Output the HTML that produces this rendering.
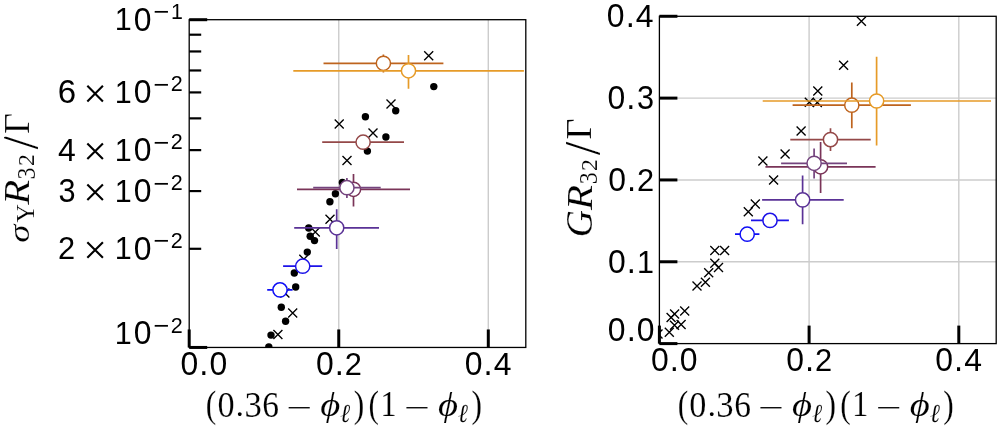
<!DOCTYPE html>
<html><head><meta charset="utf-8"><title>chart</title>
<style>html,body{margin:0;padding:0;background:#fff;width:1000px;height:428px;overflow:hidden}
text{font-kerning:none}svg{will-change:transform}</style></head>
<body>
<svg width="1000" height="428" viewBox="0 0 1000 428" style="display:block">
<rect width="1000" height="428" fill="#fff"/>
<clipPath id="cl"><rect x="189.20" y="19.70" width="336.60" height="327.75"/></clipPath>
<line x1="338.75" y1="19.70" x2="338.75" y2="347.45" stroke="#cccccc" stroke-width="1.40"/>
<line x1="488.30" y1="19.70" x2="488.30" y2="347.45" stroke="#cccccc" stroke-width="1.40"/>
<g clip-path="url(#cl)">
<path d="M273.40 330.10L282.40 339.10M273.40 339.10L282.40 330.10" stroke="#000" stroke-width="1.35" fill="none"/>
<path d="M288.20 308.40L297.20 317.40M288.20 317.40L297.20 308.40" stroke="#000" stroke-width="1.35" fill="none"/>
<path d="M280.40 288.50L289.40 297.50M280.40 297.50L289.40 288.50" stroke="#000" stroke-width="1.35" fill="none"/>
<path d="M299.30 254.70L308.30 263.70M299.30 263.70L308.30 254.70" stroke="#000" stroke-width="1.35" fill="none"/>
<path d="M310.80 227.50L319.80 236.50M310.80 236.50L319.80 227.50" stroke="#000" stroke-width="1.35" fill="none"/>
<path d="M325.50 214.70L334.50 223.70M325.50 223.70L334.50 214.70" stroke="#000" stroke-width="1.35" fill="none"/>
<path d="M342.50 156.00L351.50 165.00M342.50 165.00L351.50 156.00" stroke="#000" stroke-width="1.35" fill="none"/>
<path d="M334.70 119.60L343.70 128.60M334.70 128.60L343.70 119.60" stroke="#000" stroke-width="1.35" fill="none"/>
<path d="M368.50 128.50L377.50 137.50M368.50 137.50L377.50 128.50" stroke="#000" stroke-width="1.35" fill="none"/>
<path d="M386.50 99.60L395.50 108.60M386.50 108.60L395.50 99.60" stroke="#000" stroke-width="1.35" fill="none"/>
<path d="M424.20 51.30L433.20 60.30M424.20 60.30L433.20 51.30" stroke="#000" stroke-width="1.35" fill="none"/>
<circle cx="268.80" cy="347.00" r="3.70" fill="#000"/>
<circle cx="271.00" cy="335.10" r="3.70" fill="#000"/>
<circle cx="281.30" cy="307.20" r="3.70" fill="#000"/>
<circle cx="285.60" cy="321.30" r="3.70" fill="#000"/>
<circle cx="294.30" cy="273.00" r="3.70" fill="#000"/>
<circle cx="295.70" cy="287.00" r="3.70" fill="#000"/>
<circle cx="307.30" cy="252.10" r="3.70" fill="#000"/>
<circle cx="314.50" cy="240.60" r="3.70" fill="#000"/>
<circle cx="308.70" cy="228.00" r="3.70" fill="#000"/>
<circle cx="310.20" cy="236.20" r="3.70" fill="#000"/>
<circle cx="329.90" cy="201.70" r="3.70" fill="#000"/>
<circle cx="335.40" cy="193.80" r="3.70" fill="#000"/>
<circle cx="342.40" cy="182.40" r="3.70" fill="#000"/>
<circle cx="365.40" cy="116.70" r="3.70" fill="#000"/>
<circle cx="367.40" cy="151.10" r="3.70" fill="#000"/>
<circle cx="385.90" cy="137.00" r="3.70" fill="#000"/>
<circle cx="395.70" cy="110.80" r="3.70" fill="#000"/>
<circle cx="433.80" cy="86.60" r="3.70" fill="#000"/>
<path d="M267.20 289.90H292.60" stroke="#0f0ff5" stroke-width="1.70" fill="none"/>
<circle cx="280.00" cy="289.90" r="7.10" fill="#fff" stroke="#0f0ff5" stroke-width="1.50"/>
<path d="M283.10 266.20H322.20" stroke="#1c12e8" stroke-width="1.70" fill="none"/>
<circle cx="302.70" cy="266.20" r="7.10" fill="#fff" stroke="#1c12e8" stroke-width="1.50"/>
<path d="M294.20 227.80H379.00M336.70 209.20V249.10" stroke="#5a3296" stroke-width="1.70" fill="none"/>
<circle cx="336.70" cy="227.80" r="7.10" fill="#fff" stroke="#5a3296" stroke-width="1.50"/>
<path d="M297.00 189.30H410.00M353.50 174.00V206.40" stroke="#7a3458" stroke-width="1.70" fill="none"/>
<circle cx="353.50" cy="189.30" r="7.10" fill="#fff" stroke="#7a3458" stroke-width="1.50"/>
<path d="M313.20 187.70H380.70M346.90 177.90V198.10" stroke="#74447e" stroke-width="1.70" fill="none"/>
<circle cx="346.90" cy="187.70" r="7.10" fill="#fff" stroke="#74447e" stroke-width="1.50"/>
<path d="M322.20 142.20H404.00" stroke="#944848" stroke-width="1.70" fill="none"/>
<circle cx="363.10" cy="142.20" r="7.10" fill="#fff" stroke="#944848" stroke-width="1.50"/>
<path d="M323.50 63.30H443.40M383.40 54.60V72.60" stroke="#be641e" stroke-width="1.70" fill="none"/>
<circle cx="383.40" cy="63.30" r="7.10" fill="#fff" stroke="#be641e" stroke-width="1.50"/>
<path d="M293.30 70.80H523.90M408.50 55.00V88.70" stroke="#e69b28" stroke-width="1.70" fill="none"/>
<circle cx="408.50" cy="70.80" r="7.10" fill="#fff" stroke="#e69b28" stroke-width="1.50"/>
</g>
<rect x="189.20" y="19.70" width="336.60" height="327.75" fill="none" stroke="#000" stroke-width="1.3"/>
<clipPath id="cr"><rect x="659.40" y="16.30" width="336.80" height="327.30"/></clipPath>
<line x1="809.10" y1="16.30" x2="809.10" y2="343.60" stroke="#cccccc" stroke-width="1.40"/>
<line x1="958.80" y1="16.30" x2="958.80" y2="343.60" stroke="#cccccc" stroke-width="1.40"/>
<line x1="659.40" y1="261.77" x2="996.20" y2="261.77" stroke="#cccccc" stroke-width="1.40"/>
<line x1="659.40" y1="179.94" x2="996.20" y2="179.94" stroke="#cccccc" stroke-width="1.40"/>
<line x1="659.40" y1="98.11" x2="996.20" y2="98.11" stroke="#cccccc" stroke-width="1.40"/>
<g clip-path="url(#cr)">
<path d="M653.50 329.50L662.50 338.50M653.50 338.50L662.50 329.50" stroke="#000" stroke-width="1.35" fill="none"/>
<path d="M664.80 327.70L673.80 336.70M664.80 336.70L673.80 327.70" stroke="#000" stroke-width="1.35" fill="none"/>
<path d="M670.00 320.70L679.00 329.70M670.00 329.70L679.00 320.70" stroke="#000" stroke-width="1.35" fill="none"/>
<path d="M676.60 320.10L685.60 329.10M676.60 329.10L685.60 320.10" stroke="#000" stroke-width="1.35" fill="none"/>
<path d="M666.60 313.10L675.60 322.10M666.60 322.10L675.60 313.10" stroke="#000" stroke-width="1.35" fill="none"/>
<path d="M670.10 309.50L679.10 318.50M670.10 318.50L679.10 309.50" stroke="#000" stroke-width="1.35" fill="none"/>
<path d="M680.20 306.50L689.20 315.50M680.20 315.50L689.20 306.50" stroke="#000" stroke-width="1.35" fill="none"/>
<path d="M692.50 281.50L701.50 290.50M692.50 290.50L701.50 281.50" stroke="#000" stroke-width="1.35" fill="none"/>
<path d="M700.90 277.80L709.90 286.80M700.90 286.80L709.90 277.80" stroke="#000" stroke-width="1.35" fill="none"/>
<path d="M704.20 268.30L713.20 277.30M704.20 277.30L713.20 268.30" stroke="#000" stroke-width="1.35" fill="none"/>
<path d="M710.30 258.70L719.30 267.70M710.30 267.70L719.30 258.70" stroke="#000" stroke-width="1.35" fill="none"/>
<path d="M714.00 263.10L723.00 272.10M714.00 272.10L723.00 263.10" stroke="#000" stroke-width="1.35" fill="none"/>
<path d="M710.30 246.00L719.30 255.00M710.30 255.00L719.30 246.00" stroke="#000" stroke-width="1.35" fill="none"/>
<path d="M720.10 246.00L729.10 255.00M720.10 255.00L729.10 246.00" stroke="#000" stroke-width="1.35" fill="none"/>
<path d="M743.80 207.30L752.80 216.30M743.80 216.30L752.80 207.30" stroke="#000" stroke-width="1.35" fill="none"/>
<path d="M750.80 199.40L759.80 208.40M750.80 208.40L759.80 199.40" stroke="#000" stroke-width="1.35" fill="none"/>
<path d="M769.10 175.50L778.10 184.50M769.10 184.50L778.10 175.50" stroke="#000" stroke-width="1.35" fill="none"/>
<path d="M758.40 156.50L767.40 165.50M758.40 165.50L767.40 156.50" stroke="#000" stroke-width="1.35" fill="none"/>
<path d="M780.60 149.50L789.60 158.50M780.60 158.50L789.60 149.50" stroke="#000" stroke-width="1.35" fill="none"/>
<path d="M796.60 126.50L805.60 135.50M796.60 135.50L805.60 126.50" stroke="#000" stroke-width="1.35" fill="none"/>
<path d="M813.30 86.50L822.30 95.50M813.30 95.50L822.30 86.50" stroke="#000" stroke-width="1.35" fill="none"/>
<path d="M804.80 97.70L813.80 106.70M804.80 106.70L813.80 97.70" stroke="#000" stroke-width="1.35" fill="none"/>
<path d="M812.80 97.90L821.80 106.90M812.80 106.90L821.80 97.90" stroke="#000" stroke-width="1.35" fill="none"/>
<path d="M839.10 60.70L848.10 69.70M839.10 69.70L848.10 60.70" stroke="#000" stroke-width="1.35" fill="none"/>
<path d="M856.90 16.70L865.90 25.70M856.90 25.70L865.90 16.70" stroke="#000" stroke-width="1.35" fill="none"/>
<path d="M735.00 234.20H759.40" stroke="#0f0ff5" stroke-width="1.70" fill="none"/>
<circle cx="747.20" cy="234.20" r="7.10" fill="#fff" stroke="#0f0ff5" stroke-width="1.50"/>
<path d="M751.00 220.40H788.90" stroke="#1c12e8" stroke-width="1.70" fill="none"/>
<circle cx="770.00" cy="220.40" r="7.10" fill="#fff" stroke="#1c12e8" stroke-width="1.50"/>
<path d="M762.10 199.90H843.70M802.60 175.40V224.30" stroke="#5a3296" stroke-width="1.70" fill="none"/>
<circle cx="802.60" cy="199.90" r="7.10" fill="#fff" stroke="#5a3296" stroke-width="1.50"/>
<path d="M765.40 166.80H875.60M820.60 142.10V193.00" stroke="#7a3458" stroke-width="1.70" fill="none"/>
<circle cx="820.60" cy="166.80" r="7.10" fill="#fff" stroke="#7a3458" stroke-width="1.50"/>
<path d="M781.10 163.30H847.00M814.10 148.40V178.60" stroke="#74447e" stroke-width="1.70" fill="none"/>
<circle cx="814.10" cy="163.30" r="7.10" fill="#fff" stroke="#74447e" stroke-width="1.50"/>
<path d="M790.30 139.60H870.70M830.50 128.20V150.90" stroke="#944848" stroke-width="1.70" fill="none"/>
<circle cx="830.50" cy="139.60" r="7.10" fill="#fff" stroke="#944848" stroke-width="1.50"/>
<path d="M792.60 105.20H910.90M851.80 82.40V128.30" stroke="#be641e" stroke-width="1.70" fill="none"/>
<circle cx="851.80" cy="105.20" r="7.10" fill="#fff" stroke="#be641e" stroke-width="1.50"/>
<path d="M762.70 101.00H991.00M876.60 56.70V145.50" stroke="#e69b28" stroke-width="1.70" fill="none"/>
<circle cx="876.60" cy="101.00" r="7.10" fill="#fff" stroke="#e69b28" stroke-width="1.50"/>
</g>
<rect x="659.40" y="16.30" width="336.80" height="327.30" fill="none" stroke="#000" stroke-width="1.3"/>
<line x1="189.20" y1="19.70" x2="207.20" y2="19.70" stroke="#000" stroke-width="3.00"/>
<line x1="189.20" y1="347.45" x2="207.20" y2="347.45" stroke="#000" stroke-width="3.00"/>
<line x1="189.20" y1="248.79" x2="201.20" y2="248.79" stroke="#000" stroke-width="2.20"/>
<line x1="189.20" y1="191.07" x2="201.20" y2="191.07" stroke="#000" stroke-width="2.20"/>
<line x1="189.20" y1="150.12" x2="201.20" y2="150.12" stroke="#000" stroke-width="2.20"/>
<line x1="189.20" y1="118.36" x2="201.20" y2="118.36" stroke="#000" stroke-width="2.20"/>
<line x1="189.20" y1="92.41" x2="201.20" y2="92.41" stroke="#000" stroke-width="2.20"/>
<line x1="189.20" y1="70.47" x2="201.20" y2="70.47" stroke="#000" stroke-width="2.20"/>
<line x1="189.20" y1="51.46" x2="201.20" y2="51.46" stroke="#000" stroke-width="2.20"/>
<line x1="189.20" y1="34.70" x2="201.20" y2="34.70" stroke="#000" stroke-width="2.20"/>
<line x1="189.20" y1="347.45" x2="189.20" y2="329.45" stroke="#000" stroke-width="3.00"/>
<line x1="338.75" y1="347.45" x2="338.75" y2="329.45" stroke="#000" stroke-width="3.00"/>
<line x1="488.30" y1="347.45" x2="488.30" y2="329.45" stroke="#000" stroke-width="3.00"/>
<line x1="659.40" y1="343.60" x2="677.40" y2="343.60" stroke="#000" stroke-width="3.00"/>
<line x1="659.40" y1="261.77" x2="677.40" y2="261.77" stroke="#000" stroke-width="3.00"/>
<line x1="659.40" y1="179.94" x2="677.40" y2="179.94" stroke="#000" stroke-width="3.00"/>
<line x1="659.40" y1="98.11" x2="677.40" y2="98.11" stroke="#000" stroke-width="3.00"/>
<line x1="659.40" y1="16.28" x2="677.40" y2="16.28" stroke="#000" stroke-width="3.00"/>
<line x1="659.40" y1="343.60" x2="659.40" y2="325.60" stroke="#000" stroke-width="3.00"/>
<line x1="809.10" y1="343.60" x2="809.10" y2="325.60" stroke="#000" stroke-width="3.00"/>
<line x1="958.80" y1="343.60" x2="958.80" y2="325.60" stroke="#000" stroke-width="3.00"/>
<g fill="#000">
<text transform="matrix(0.3051 0 0 0.3211 114.65 30.39)" style="font-family:'Liberation Sans';font-size:100px">1</text>
<text transform="matrix(0.3194 0 0 0.3237 133.67 30.51)" style="font-family:'Liberation Sans';font-size:100px">0</text>
<text transform="matrix(0.2733 0 0 0.2470 153.39 20.36)" style="font-family:'Liberation Sans';font-size:100px">−</text>
<text transform="matrix(0.2135 0 0 0.2247 170.97 18.79)" style="font-family:'Liberation Sans';font-size:100px">1</text>
<text transform="matrix(0.3306 0 0 0.3237 57.68 103.19)" style="font-family:'Liberation Sans';font-size:100px">6</text>
<path d="M87.33 85.76L102.92 101.40M87.33 101.40L102.92 85.76" stroke="#000" stroke-width="2.1" fill="none"/>
<text transform="matrix(0.3051 0 0 0.3211 114.72 103.08)" style="font-family:'Liberation Sans';font-size:100px">1</text>
<text transform="matrix(0.3194 0 0 0.3237 133.74 103.19)" style="font-family:'Liberation Sans';font-size:100px">0</text>
<text transform="matrix(0.2733 0 0 0.2470 153.46 93.04)" style="font-family:'Liberation Sans';font-size:100px">−</text>
<text transform="matrix(0.2155 0 0 0.2254 170.80 91.48)" style="font-family:'Liberation Sans';font-size:100px">2</text>
<text transform="matrix(0.3194 0 0 0.3211 57.99 160.79)" style="font-family:'Liberation Sans';font-size:100px">4</text>
<path d="M87.33 143.48L102.92 159.11M87.33 159.11L102.92 143.48" stroke="#000" stroke-width="2.1" fill="none"/>
<text transform="matrix(0.3051 0 0 0.3211 114.72 160.79)" style="font-family:'Liberation Sans';font-size:100px">1</text>
<text transform="matrix(0.3194 0 0 0.3237 133.74 160.91)" style="font-family:'Liberation Sans';font-size:100px">0</text>
<text transform="matrix(0.2733 0 0 0.2470 153.46 150.76)" style="font-family:'Liberation Sans';font-size:100px">−</text>
<text transform="matrix(0.2155 0 0 0.2254 170.80 149.19)" style="font-family:'Liberation Sans';font-size:100px">2</text>
<text transform="matrix(0.3067 0 0 0.3237 58.38 201.85)" style="font-family:'Liberation Sans';font-size:100px">3</text>
<path d="M87.33 184.43L102.92 200.06M87.33 200.06L102.92 184.43" stroke="#000" stroke-width="2.1" fill="none"/>
<text transform="matrix(0.3051 0 0 0.3211 114.72 201.74)" style="font-family:'Liberation Sans';font-size:100px">1</text>
<text transform="matrix(0.3194 0 0 0.3237 133.74 201.85)" style="font-family:'Liberation Sans';font-size:100px">0</text>
<text transform="matrix(0.2733 0 0 0.2470 153.46 191.71)" style="font-family:'Liberation Sans';font-size:100px">−</text>
<text transform="matrix(0.2155 0 0 0.2254 170.80 190.14)" style="font-family:'Liberation Sans';font-size:100px">2</text>
<text transform="matrix(0.3079 0 0 0.3221 57.91 259.46)" style="font-family:'Liberation Sans';font-size:100px">2</text>
<path d="M87.33 242.14L102.92 257.77M87.33 257.77L102.92 242.14" stroke="#000" stroke-width="2.1" fill="none"/>
<text transform="matrix(0.3051 0 0 0.3211 114.72 259.46)" style="font-family:'Liberation Sans';font-size:100px">1</text>
<text transform="matrix(0.3194 0 0 0.3237 133.74 259.57)" style="font-family:'Liberation Sans';font-size:100px">0</text>
<text transform="matrix(0.2733 0 0 0.2470 153.46 249.42)" style="font-family:'Liberation Sans';font-size:100px">−</text>
<text transform="matrix(0.2155 0 0 0.2254 170.80 247.86)" style="font-family:'Liberation Sans';font-size:100px">2</text>
<text transform="matrix(0.3051 0 0 0.3211 114.72 344.17)" style="font-family:'Liberation Sans';font-size:100px">1</text>
<text transform="matrix(0.3194 0 0 0.3237 133.74 344.28)" style="font-family:'Liberation Sans';font-size:100px">0</text>
<text transform="matrix(0.2733 0 0 0.2470 153.46 334.13)" style="font-family:'Liberation Sans';font-size:100px">−</text>
<text transform="matrix(0.2155 0 0 0.2254 170.80 332.57)" style="font-family:'Liberation Sans';font-size:100px">2</text>
<text transform="matrix(0.3194 0 0 0.3237 180.51 375.41)" style="font-family:'Liberation Sans';font-size:100px">0</text>
<text transform="matrix(0.3279 0 0 0.3514 199.29 375.30)" style="font-family:'Liberation Sans';font-size:100px">.</text>
<text transform="matrix(0.3194 0 0 0.3237 209.42 375.41)" style="font-family:'Liberation Sans';font-size:100px">0</text>
<text transform="matrix(0.3194 0 0 0.3237 315.92 375.41)" style="font-family:'Liberation Sans';font-size:100px">0</text>
<text transform="matrix(0.3279 0 0 0.3514 334.70 375.30)" style="font-family:'Liberation Sans';font-size:100px">.</text>
<text transform="matrix(0.3079 0 0 0.3221 344.75 375.30)" style="font-family:'Liberation Sans';font-size:100px">2</text>
<text transform="matrix(0.3194 0 0 0.3237 464.81 375.41)" style="font-family:'Liberation Sans';font-size:100px">0</text>
<text transform="matrix(0.3279 0 0 0.3514 483.58 375.30)" style="font-family:'Liberation Sans';font-size:100px">.</text>
<text transform="matrix(0.3194 0 0 0.3211 493.71 375.30)" style="font-family:'Liberation Sans';font-size:100px">4</text>
<text transform="matrix(0.3194 0 0 0.3237 607.96 272.88)" style="font-family:'Liberation Sans';font-size:100px">0</text>
<text transform="matrix(0.3279 0 0 0.3514 626.73 272.77)" style="font-family:'Liberation Sans';font-size:100px">.</text>
<text transform="matrix(0.3051 0 0 0.3211 637.12 272.77)" style="font-family:'Liberation Sans';font-size:100px">1</text>
<text transform="matrix(0.3194 0 0 0.3237 608.20 191.05)" style="font-family:'Liberation Sans';font-size:100px">0</text>
<text transform="matrix(0.3279 0 0 0.3514 626.97 190.94)" style="font-family:'Liberation Sans';font-size:100px">.</text>
<text transform="matrix(0.3079 0 0 0.3221 637.03 190.94)" style="font-family:'Liberation Sans';font-size:100px">2</text>
<text transform="matrix(0.3194 0 0 0.3237 607.59 109.22)" style="font-family:'Liberation Sans';font-size:100px">0</text>
<text transform="matrix(0.3279 0 0 0.3514 626.36 109.11)" style="font-family:'Liberation Sans';font-size:100px">.</text>
<text transform="matrix(0.3067 0 0 0.3237 636.89 109.22)" style="font-family:'Liberation Sans';font-size:100px">3</text>
<text transform="matrix(0.3194 0 0 0.3237 606.86 27.39)" style="font-family:'Liberation Sans';font-size:100px">0</text>
<text transform="matrix(0.3279 0 0 0.3514 625.64 27.28)" style="font-family:'Liberation Sans';font-size:100px">.</text>
<text transform="matrix(0.3194 0 0 0.3211 635.77 27.28)" style="font-family:'Liberation Sans';font-size:100px">4</text>
<text transform="matrix(0.3194 0 0 0.3237 607.87 341.01)" style="font-family:'Liberation Sans';font-size:100px">0</text>
<text transform="matrix(0.3279 0 0 0.3514 626.65 340.90)" style="font-family:'Liberation Sans';font-size:100px">.</text>
<text transform="matrix(0.3194 0 0 0.3237 636.78 341.01)" style="font-family:'Liberation Sans';font-size:100px">0</text>
<text transform="matrix(0.3194 0 0 0.3237 650.96 371.41)" style="font-family:'Liberation Sans';font-size:100px">0</text>
<text transform="matrix(0.3279 0 0 0.3514 669.74 371.30)" style="font-family:'Liberation Sans';font-size:100px">.</text>
<text transform="matrix(0.3194 0 0 0.3237 679.87 371.41)" style="font-family:'Liberation Sans';font-size:100px">0</text>
<text transform="matrix(0.3194 0 0 0.3237 786.27 371.41)" style="font-family:'Liberation Sans';font-size:100px">0</text>
<text transform="matrix(0.3279 0 0 0.3514 805.05 371.30)" style="font-family:'Liberation Sans';font-size:100px">.</text>
<text transform="matrix(0.3079 0 0 0.3221 815.10 371.30)" style="font-family:'Liberation Sans';font-size:100px">2</text>
<text transform="matrix(0.3194 0 0 0.3237 935.31 371.41)" style="font-family:'Liberation Sans';font-size:100px">0</text>
<text transform="matrix(0.3279 0 0 0.3514 954.08 371.30)" style="font-family:'Liberation Sans';font-size:100px">.</text>
<text transform="matrix(0.3194 0 0 0.3211 964.21 371.30)" style="font-family:'Liberation Sans';font-size:100px">4</text>
<text transform="matrix(0.3155 0 0 0.3805 205.86 416.72)" style="font-family:'Liberation Serif';font-size:100px;stroke:#fff;stroke-width:0.431px">(</text>
<text transform="matrix(0.3426 0 0 0.3517 217.56 416.61)" style="font-family:'Liberation Serif';font-size:100px;stroke:#fff;stroke-width:0.432px">0</text>
<text transform="matrix(0.3208 0 0 0.3208 235.85 415.75)" style="font-family:'Liberation Serif';font-size:100px">.</text>
<text transform="matrix(0.3466 0 0 0.3533 244.57 416.61)" style="font-family:'Liberation Serif';font-size:100px;stroke:#fff;stroke-width:0.429px">3</text>
<text transform="matrix(0.3351 0 0 0.3533 262.34 416.61)" style="font-family:'Liberation Serif';font-size:100px;stroke:#fff;stroke-width:0.436px">6</text>
<text transform="matrix(0.4529 0 0 0.2774 286.65 416.78)" style="font-family:'Liberation Serif';font-size:100px">−</text>
<text transform="matrix(0.3868 0 0 0.3420 320.21 415.99)" style="font-family:'Liberation Serif';font-size:100px;font-style:italic;stroke:#fff;stroke-width:0.412px">ϕ</text>
<text transform="matrix(0.2397 0 0 0.2576 340.11 422.18)" style="font-family:'Liberation Serif';font-size:100px;font-style:italic;stroke:#fff;stroke-width:0.422px">ℓ</text>
<text transform="matrix(0.3155 0 0 0.3805 353.75 416.72)" style="font-family:'Liberation Serif';font-size:100px;stroke:#fff;stroke-width:0.431px">)</text>
<text transform="matrix(0.3155 0 0 0.3805 368.42 416.72)" style="font-family:'Liberation Serif';font-size:100px;stroke:#fff;stroke-width:0.431px">(</text>
<text transform="matrix(0.3273 0 0 0.3481 380.20 416.20)" style="font-family:'Liberation Serif';font-size:100px;stroke:#fff;stroke-width:0.444px">1</text>
<text transform="matrix(0.4529 0 0 0.2774 404.40 416.78)" style="font-family:'Liberation Serif';font-size:100px">−</text>
<text transform="matrix(0.3868 0 0 0.3420 437.95 415.99)" style="font-family:'Liberation Serif';font-size:100px;font-style:italic;stroke:#fff;stroke-width:0.412px">ϕ</text>
<text transform="matrix(0.2397 0 0 0.2576 457.86 422.18)" style="font-family:'Liberation Serif';font-size:100px;font-style:italic;stroke:#fff;stroke-width:0.422px">ℓ</text>
<text transform="matrix(0.3155 0 0 0.3805 471.49 416.72)" style="font-family:'Liberation Serif';font-size:100px;stroke:#fff;stroke-width:0.431px">)</text>
<text transform="matrix(0.3155 0 0 0.3805 677.66 416.82)" style="font-family:'Liberation Serif';font-size:100px;stroke:#fff;stroke-width:0.431px">(</text>
<text transform="matrix(0.3426 0 0 0.3517 689.36 416.71)" style="font-family:'Liberation Serif';font-size:100px;stroke:#fff;stroke-width:0.432px">0</text>
<text transform="matrix(0.3208 0 0 0.3208 707.65 415.85)" style="font-family:'Liberation Serif';font-size:100px">.</text>
<text transform="matrix(0.3466 0 0 0.3533 716.37 416.71)" style="font-family:'Liberation Serif';font-size:100px;stroke:#fff;stroke-width:0.429px">3</text>
<text transform="matrix(0.3351 0 0 0.3533 734.14 416.71)" style="font-family:'Liberation Serif';font-size:100px;stroke:#fff;stroke-width:0.436px">6</text>
<text transform="matrix(0.4529 0 0 0.2774 758.45 416.88)" style="font-family:'Liberation Serif';font-size:100px">−</text>
<text transform="matrix(0.3868 0 0 0.3420 792.01 416.09)" style="font-family:'Liberation Serif';font-size:100px;font-style:italic;stroke:#fff;stroke-width:0.412px">ϕ</text>
<text transform="matrix(0.2397 0 0 0.2576 811.91 422.28)" style="font-family:'Liberation Serif';font-size:100px;font-style:italic;stroke:#fff;stroke-width:0.422px">ℓ</text>
<text transform="matrix(0.3155 0 0 0.3805 825.55 416.82)" style="font-family:'Liberation Serif';font-size:100px;stroke:#fff;stroke-width:0.431px">)</text>
<text transform="matrix(0.3155 0 0 0.3805 840.22 416.82)" style="font-family:'Liberation Serif';font-size:100px;stroke:#fff;stroke-width:0.431px">(</text>
<text transform="matrix(0.3273 0 0 0.3481 852.00 416.30)" style="font-family:'Liberation Serif';font-size:100px;stroke:#fff;stroke-width:0.444px">1</text>
<text transform="matrix(0.4529 0 0 0.2774 876.20 416.88)" style="font-family:'Liberation Serif';font-size:100px">−</text>
<text transform="matrix(0.3868 0 0 0.3420 909.75 416.09)" style="font-family:'Liberation Serif';font-size:100px;font-style:italic;stroke:#fff;stroke-width:0.412px">ϕ</text>
<text transform="matrix(0.2397 0 0 0.2576 929.66 422.28)" style="font-family:'Liberation Serif';font-size:100px;font-style:italic;stroke:#fff;stroke-width:0.422px">ℓ</text>
<text transform="matrix(0.3155 0 0 0.3805 943.29 416.82)" style="font-family:'Liberation Serif';font-size:100px;stroke:#fff;stroke-width:0.431px">)</text>
<g transform="translate(28.5 242.9) rotate(-90)">
<text transform="matrix(0.3673 0 0 0.2880 0.14 0.10)" style="font-family:'Liberation Serif';font-size:100px;font-style:italic;stroke:#fff;stroke-width:0.458px">σ</text>
<text transform="matrix(0.2537 0 0 0.2498 20.30 5.82)" style="font-family:'Liberation Serif';font-size:100px;stroke:#fff;stroke-width:0.417px">Y</text>
<text transform="matrix(0.4083 0 0 0.3683 38.21 0.75)" style="font-family:'Liberation Serif';font-size:100px;font-style:italic;stroke:#fff;stroke-width:0.386px">R</text>
<text transform="matrix(0.2405 0 0 0.2451 63.46 6.10)" style="font-family:'Liberation Serif';font-size:100px;stroke:#fff;stroke-width:0.432px">3</text>
<text transform="matrix(0.2385 0 0 0.2408 77.02 5.82)" style="font-family:'Liberation Serif';font-size:100px;stroke:#fff;stroke-width:0.438px">2</text>
<text transform="matrix(0.4760 0 0 0.5113 93.65 8.05)" style="font-family:'Liberation Serif';font-size:100px;stroke:#fff;stroke-width:0.304px">/</text>
<text transform="matrix(0.3646 0 0 0.3568 108.83 0.00)" style="font-family:'Liberation Serif';font-size:100px;stroke:#fff;stroke-width:0.416px">Γ</text>
</g>
<g transform="translate(591.3 236.8) rotate(-90)">
<text transform="matrix(0.3764 0 0 0.3706 -0.34 0.43)" style="font-family:'Liberation Serif';font-size:100px;font-style:italic;stroke:#fff;stroke-width:0.402px">G</text>
<text transform="matrix(0.4083 0 0 0.3683 26.76 0.75)" style="font-family:'Liberation Serif';font-size:100px;font-style:italic;stroke:#fff;stroke-width:0.386px">R</text>
<text transform="matrix(0.2405 0 0 0.2451 52.51 6.10)" style="font-family:'Liberation Serif';font-size:100px;stroke:#fff;stroke-width:0.432px">3</text>
<text transform="matrix(0.2385 0 0 0.2408 65.71 5.82)" style="font-family:'Liberation Serif';font-size:100px;stroke:#fff;stroke-width:0.438px">2</text>
<text transform="matrix(0.4760 0 0 0.5113 81.80 8.05)" style="font-family:'Liberation Serif';font-size:100px;stroke:#fff;stroke-width:0.304px">/</text>
<text transform="matrix(0.3646 0 0 0.3568 97.18 0.00)" style="font-family:'Liberation Serif';font-size:100px;stroke:#fff;stroke-width:0.416px">Γ</text>
</g>
</g>
</svg>
</body></html>
